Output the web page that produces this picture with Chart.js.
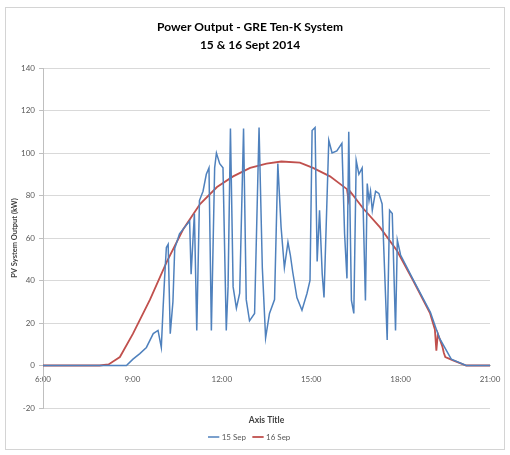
<!DOCTYPE html>
<html>
<head>
<meta charset="utf-8">
<script src="https://cdn.jsdelivr.net/npm/chart.js@4.4.1/dist/chart.umd.min.js"></script>
<style>
html,body{margin:0;padding:0;background:#fff;}
#wrap{position:relative;width:510px;height:455px;}
#frame{position:absolute;left:5px;top:7px;width:498px;height:441px;border:1px solid #d4d4d4;pointer-events:none;}
</style>
</head>
<body>
<div id="wrap">
<canvas id="c" width="510" height="455"></canvas>
<div id="frame"></div>
</div>
<script>
// ---- data (hours of day, output) ----
const titleLines = ['Power Output - GRE Ten-K System', '15 & 16 Sept 2014'];
const seriesNames = ['15 Sep', '16 Sep'];
const xTickHours = [6, 9, 12, 15, 18, 21];
const yTickValues = [-20, 0, 20, 40, 60, 80, 100, 120, 140];

const sep15Time = [6, 8.8, 9.02, 9.25, 9.47, 9.7, 9.86, 9.97, 10.03, 10.08, 10.14, 10.2, 10.27, 10.36, 10.42, 10.58, 10.75, 10.92, 10.97, 11.08, 11.16, 11.25, 11.37, 11.48, 11.57, 11.65, 11.76, 11.82, 11.93, 12.04, 12.15, 12.21, 12.29, 12.38, 12.49, 12.6, 12.73, 12.82, 12.93, 13.1, 13.25, 13.36, 13.47, 13.6, 13.77, 13.88, 13.99, 14.1, 14.22, 14.3, 14.38, 14.52, 14.69, 14.86, 14.96, 15.03, 15.13, 15.2, 15.28, 15.37, 15.43, 15.59, 15.7, 15.86, 16.03, 16.12, 16.2, 16.26, 16.35, 16.43, 16.51, 16.6, 16.71, 16.82, 16.88, 16.94, 16.99, 17.05, 17.16, 17.27, 17.38, 17.55, 17.63, 17.72, 17.83, 17.89, 18.0, 18.4, 19.0, 19.3, 19.7, 20.2, 21];
const sep15Output = [0, 0, 3, 5.6, 8.5, 15, 16.5, 8.5, 27, 41, 55.5, 57, 15, 30, 55, 62, 65, 68, 43, 71.5, 16.5, 77.6, 82, 90, 93, 16.5, 93, 100, 95, 93, 16.5, 37, 111.5, 37, 27, 34, 111.5, 31, 21, 24.5, 112, 46, 13, 24.5, 31, 95, 65, 46, 58, 52, 44, 32, 26, 34, 40, 110.6, 112, 49, 73, 43, 32, 106, 100, 101, 104.5, 62, 41, 110, 30.6, 24.5, 96.5, 90, 93, 30.6, 85.6, 77.6, 82, 73, 82, 81, 76, 12, 73, 71.5, 16.5, 59, 52, 41, 25, 13, 3, 0, 0];

const sep16Time = [6, 7.9, 8.2, 8.58, 9.02, 9.59, 10.16, 10.7, 11.27, 11.84, 12.38, 12.95, 13.5, 14.0, 14.62, 15.06, 15.63, 16.2, 16.25, 16.3, 16.74, 17.31, 17.88, 18.42, 18.99, 19.15, 19.2, 19.25, 19.4, 19.45, 19.5, 19.76, 20.2, 21];
const sep16Output = [0, 0, 0.5, 4, 15, 31, 49, 64, 76, 84, 89, 93, 95, 96, 95.5, 93, 89, 83, 78, 82, 74, 65, 54, 40, 24.5, 17, 7, 15, 9, 6, 4, 2.4, 0, 0];

const toPoints = (xs, ys) => xs.map((x, i) => ({x: x, y: ys[i]}));

const FONT = 'Lato, "Liberation Sans", sans-serif';

new Chart(document.getElementById('c'), {
  type: 'line',
  data: {
    datasets: [
      {label: seriesNames[0], data: toPoints(sep15Time, sep15Output), borderColor: '#4F81BD', backgroundColor: '#4F81BD', borderWidth: 1.5, pointRadius: 0, tension: 0, xAxisID: 'x', yAxisID: 'y'},
      {label: seriesNames[1], data: toPoints(sep16Time, sep16Output), borderColor: '#C0504D', backgroundColor: '#C0504D', borderWidth: 1.8, pointRadius: 0, tension: 0, xAxisID: 'x', yAxisID: 'y'}
    ]
  },
  options: {
    responsive: false,
    animation: false,
    events: [],
    layout: {padding: {top: 18, left: 10, right: 20, bottom: 4}},
    plugins: {
      title: {display: true, text: titleLines, color: '#000', font: {family: FONT, size: 12, weight: 'bold', lineHeight: 1.5}, padding: {top: 0, bottom: 14}},
      legend: {position: 'bottom', labels: {usePointStyle: true, pointStyle: 'line', boxWidth: 22, font: {family: FONT, size: 8}, color: '#595959', padding: 8}},
      tooltip: {enabled: false}
    },
    scales: {
      x: {
        type: 'linear', position: {y: 0}, min: 6, max: 21,
        afterBuildTicks: s => { s.ticks = xTickHours.map(v => ({value: v})); },
        ticks: {callback: v => v + ':00', font: {family: FONT, size: 8}, color: '#595959', maxRotation: 0, padding: 1},
        grid: {display: false},
        border: {display: true, color: '#bfbfbf'}
      },
      x2: {
        type: 'linear', position: 'bottom', min: 6, max: 21,
        afterFit: s => { s.height = 17; },
        ticks: {display: false},
        grid: {display: false, drawTicks: false},
        border: {display: false},
        title: {display: true, text: 'Axis Title', font: {family: FONT, size: 8.5, weight: 'bold'}, color: '#404040', padding: {top: 2, bottom: 0}}
      },
      y: {
        type: 'linear', min: -20, max: 140,
        afterBuildTicks: s => { s.ticks = yTickValues.map(v => ({value: v})); },
        afterFit: s => { s.width = 33; },
        ticks: {font: {family: FONT, size: 8}, color: '#595959', padding: 4},
        grid: {color: '#d9d9d9', tickLength: 4, tickColor: '#bfbfbf'},
        border: {display: true, color: '#bfbfbf'},
        title: {display: true, text: 'PV System Output (kW)', font: {family: FONT, size: 7.5, weight: 'bold'}, color: '#404040', padding: 0}
      }
    }
  }
});
</script>
</body>
</html>
